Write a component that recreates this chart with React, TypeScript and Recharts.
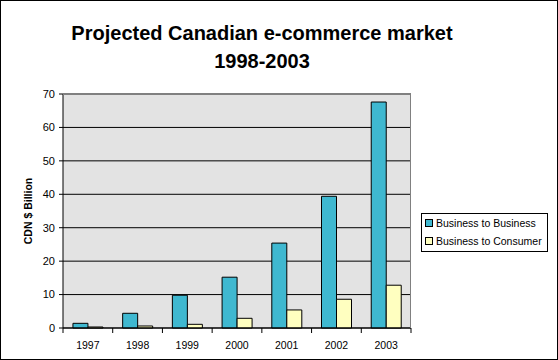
import React from "react";
import { Bar, BarChart, CartesianGrid, XAxis, YAxis } from "recharts";

const years = ["1997", "1998", "1999", "2000", "2001", "2002", "2003"];
const businessToBusiness = [1.4, 4.4, 9.8, 15.2, 25.4, 39.4, 67.6];
const businessToConsumer = [0.3, 0.6, 1.1, 2.9, 5.4, 8.6, 12.8];
const yTicks = [0, 10, 20, 30, 40, 50, 60, 70];
const seriesNames = ["Business to Business", "Business to Consumer"];

const data = years.map((year, i) => ({
  year,
  b2b: businessToBusiness[i],
  b2c: businessToConsumer[i],
}));

const FONT = "'Liberation Sans', Arial, sans-serif";
const COLORS = ["#3fb8d0", "#ffffc0"];
const PLOT_W = 348;
const HALF_BAND = PLOT_W / years.length / 2;

function XTick(props: any) {
  const { x, y, payload, index } = props;
  return (
    <g>
      <line x1={x + HALF_BAND} y1={y - 8} x2={x + HALF_BAND} y2={y - 3} stroke="#000" />
      {index === 0 && <line x1={x - HALF_BAND} y1={y - 8} x2={x - HALF_BAND} y2={y - 3} stroke="#000" />}
      <text x={x} y={y + 13} textAnchor="middle" fontSize={10.5} fontFamily={FONT} fill="#000">
        {payload.value}
      </text>
    </g>
  );
}

export default function App() {
  return (
    <div
      style={{
        position: "fixed",
        left: 0,
        top: 0,
        width: 558,
        height: 360,
        border: "1px solid #000",
        boxSizing: "border-box",
        background: "#fff",
        fontFamily: FONT,
      }}
    >
      <div
        style={{
          position: "absolute",
          left: 0,
          top: 18,
          width: 522,
          textAlign: "center",
          fontWeight: "bold",
          fontSize: 20,
          lineHeight: "28px",
        }}
      >
        Projected Canadian e-commerce market
        <br />
        1998-2003
      </div>
      <BarChart
        width={556}
        height={358}
        data={data}
        margin={{ top: 93, right: 146, bottom: 11, left: 0 }}
        barCategoryGap="20%"
        barGap={0}
      >
        <CartesianGrid vertical={false} fill="#e3e3e3" stroke="#000" strokeOpacity={1} />
        <XAxis
          dataKey="year"
          height={20}
          tickLine={false}
          axisLine={{ stroke: "#000" }}
          tick={<XTick />}
          interval={0}
        />
        <YAxis
          width={62}
          domain={[0, 70]}
          ticks={yTicks}
          interval={0}
          axisLine={{ stroke: "#000" }}
          tickLine={{ stroke: "#000" }}
          tickSize={4}
          tick={{ fill: "#000", fontSize: 11, fontFamily: FONT, dx: -2 }}
          label={{
            value: "CDN $ Billion",
            angle: -90,
            position: "insideLeft",
            offset: 27,
            style: { fontSize: 10.5, fontWeight: "bold", fontFamily: FONT, fill: "#000", textAnchor: "middle" },
          }}
        />
        <Bar dataKey="b2b" name={seriesNames[0]} fill={COLORS[0]} stroke="#000" isAnimationActive={false} />
        <Bar dataKey="b2c" name={seriesNames[1]} fill={COLORS[1]} stroke="#000" isAnimationActive={false} />
      </BarChart>
      <div
        style={{
          position: "absolute",
          left: 62,
          top: 93,
          width: PLOT_W,
          height: 234,
          borderTop: "1px solid #808080",
          borderRight: "1px solid #808080",
          boxSizing: "border-box",
          pointerEvents: "none",
        }}
      />
      <div
        style={{
          position: "absolute",
          left: 420,
          top: 212,
          width: 127,
          height: 39,
          boxSizing: "border-box",
          border: "1px solid #000",
          background: "#fff",
          padding: "0 0 0 3px",
          fontSize: 10.5,
          whiteSpace: "nowrap",
        }}
      >
        {seriesNames.map((name, i) => (
          <div key={name} style={{ display: "flex", alignItems: "center", height: 18 }}>
            <span
              style={{
                width: 6,
                height: 6,
                border: "1px solid #000",
                background: COLORS[i],
                marginRight: 3,
                display: "inline-block",
              }}
            />
            <span>{name}</span>
          </div>
        ))}
      </div>
    </div>
  );
}
